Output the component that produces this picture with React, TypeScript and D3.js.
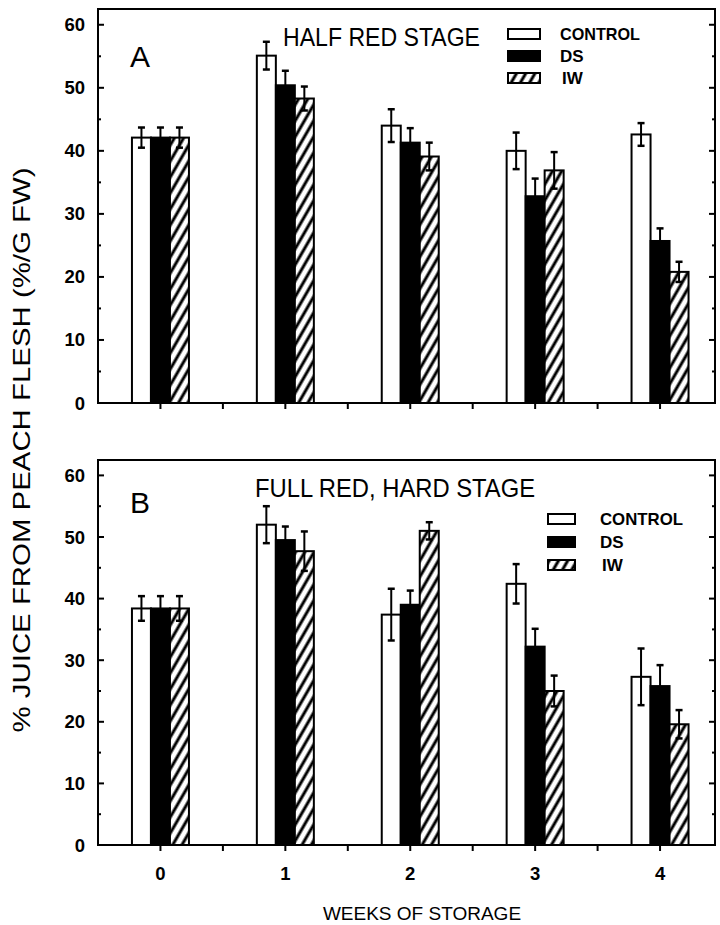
import * as d3 from "d3";

// weeks of storage and the three treatments
const weeks = [0, 1, 2, 3, 4];
const treatments = ["CONTROL", "DS", "IW"];
const yTicks = [0, 10, 20, 30, 40, 50, 60];

// panel A: half red stage
const halfControl = [42.1, 55.1, 44.0, 40.0, 42.6];
const halfControlErr = [1.6, 2.2, 2.6, 2.9, 1.8];
const halfDS = [42.1, 50.4, 41.3, 32.8, 25.7];
const halfDSErr = [1.6, 2.3, 2.3, 2.8, 2.0];
const halfIW = [42.1, 48.3, 39.1, 36.9, 20.8];
const halfIWErr = [1.6, 1.9, 2.2, 2.9, 1.6];

// panel B: full red, hard stage
const fullControl = [38.4, 52.0, 37.4, 42.4, 27.3];
const fullControlErr = [2.0, 3.0, 4.2, 3.2, 4.6];
const fullDS = [38.4, 49.5, 39.0, 32.2, 25.8];
const fullDSErr = [2.0, 2.2, 2.3, 2.9, 3.4];
const fullIW = [38.4, 47.7, 51.0, 25.0, 19.6];
const fullIWErr = [2.0, 3.2, 1.4, 2.5, 2.3];

const FONT = "'Liberation Sans', Arial, sans-serif";
const LEFT = 98, RIGHT = 715;

const x = d3.scaleLinear().domain([-0.5, 4.44]).range([LEFT, RIGHT]);
const inner = d3.scaleBand<string>().domain(treatments).range([-28.5, 28.5]).padding(0);
const fills = ["#fff", "#000", "url(#hatch)"];

function Panel({
  y0, y1, vals, errs, letter, letterY, title, titleX, titleY, titleLen,
  legX, legW, legTextX, legY, legGap, ctrlLen,
}: {
  y0: number; y1: number; vals: number[][]; errs: number[][];
  letter: string; letterY: number; title: string; titleX: number; titleY: number; titleLen: number;
  legX: number; legW: number; legTextX: number; legY: number; legGap: number; ctrlLen: number;
}) {
  const y = d3.scaleLinear().domain([0, 62.5]).range([y0, y1]);
  const minor = d3.range(5, 62, 10);
  return (
    <g>
      {/* bars */}
      {weeks.map((w, i) => (
        <g key={w}>
          {treatments.map((t, k) => (
            <rect key={t} x={x(w) + inner(t)!} y={y(vals[k][i])} width={inner.bandwidth()}
              height={y(0) - y(vals[k][i])} fill={fills[k]} stroke="#000" strokeWidth={2} />
          ))}
          {treatments.map((t, k) => {
            const cx = x(w) + inner(t)! + inner.bandwidth() / 2;
            const hi = y(vals[k][i] + errs[k][i]), lo = y(vals[k][i] - errs[k][i]);
            return (
              <g key={`e${t}`} stroke="#000" strokeWidth={2}>
                <line x1={cx} x2={cx} y1={hi} y2={lo} />
                <line x1={cx - 3.5} x2={cx + 3.5} y1={hi} y2={hi} strokeWidth={2.5} />
                <line x1={cx - 3.5} x2={cx + 3.5} y1={lo} y2={lo} strokeWidth={2.5} />
              </g>
            );
          })}
        </g>
      ))}
      {/* frame */}
      <rect x={LEFT} y={y1} width={RIGHT - LEFT} height={y0 - y1} fill="none" stroke="#000" strokeWidth={2} />
      {/* y ticks, inward on both sides */}
      {yTicks.map((t) => (
        <g key={t}>
          <line x1={LEFT} x2={LEFT + 6} y1={y(t)} y2={y(t)} stroke="#000" strokeWidth={2} />
          <line x1={RIGHT} x2={RIGHT - 6} y1={y(t)} y2={y(t)} stroke="#000" strokeWidth={2} />
          <text x={85} y={y(t) + 6.5} textAnchor="end" fontFamily={FONT} fontWeight="bold" fontSize={18.5}>{t}</text>
        </g>
      ))}
      {minor.map((t) => (
        <g key={`m${t}`}>
          <line x1={LEFT} x2={LEFT + 3} y1={y(t)} y2={y(t)} stroke="#000" strokeWidth={2} />
          <line x1={RIGHT} x2={RIGHT - 3} y1={y(t)} y2={y(t)} stroke="#000" strokeWidth={2} />
        </g>
      ))}
      {/* x ticks, outward */}
      {d3.range(0, 4.01, 0.5).map((t) => (
        <line key={`x${t}`} x1={x(t)} x2={x(t)} y1={y0} y2={y0 + 6} stroke="#000" strokeWidth={2} />
      ))}
      <text x={130} y={letterY} fontFamily={FONT} fontSize={30}>{letter}</text>
      <text x={titleX} y={titleY} fontFamily={FONT} fontSize={25} textLength={titleLen} lengthAdjust="spacingAndGlyphs">{title}</text>
      {/* legend */}
      {treatments.map((t, k) => (
        <g key={`l${t}`}>
          <rect x={legX} y={legY + k * legGap - 11} width={legW} height={10} fill={fills[k]} stroke="#000" strokeWidth={2} />
          <text x={legTextX + (t === "IW" ? 2 : 0)} y={legY + k * legGap} fontFamily={FONT} fontWeight="bold" fontSize={17}
            textLength={t === "CONTROL" ? ctrlLen : undefined} lengthAdjust="spacingAndGlyphs">{t}</text>
        </g>
      ))}
    </g>
  );
}

export default function App() {
  return (
    <svg width={720} height={925} style={{ position: "absolute", left: 0, top: 0, background: "#fff" }}>
      <defs>
        <pattern id="hatch" patternUnits="userSpaceOnUse" width={8} height={8} patternTransform="rotate(30)">
          <rect width={8} height={8} fill="#fff" />
          <line x1={4} x2={4} y1={0} y2={8} stroke="#000" strokeWidth={3} />
        </pattern>
      </defs>
      <Panel y0={403} y1={9} vals={[halfControl, halfDS, halfIW]} errs={[halfControlErr, halfDSErr, halfIWErr]}
        letter="A" letterY={67} title="HALF RED STAGE" titleX={283} titleY={46} titleLen={197}
        legX={508} legW={32} legTextX={560} legY={40} legGap={22} ctrlLen={80} />
      <Panel y0={845} y1={460} vals={[fullControl, fullDS, fullIW]} errs={[fullControlErr, fullDSErr, fullIWErr]}
        letter="B" letterY={513} title="FULL RED, HARD STAGE" titleX={255} titleY={497} titleLen={280}
        legX={548} legW={27} legTextX={600} legY={525} legGap={23} ctrlLen={83} />
      {weeks.map((w) => (
        <text key={w} x={x(w)} y={880} textAnchor="middle" fontFamily={FONT} fontWeight="bold" fontSize={18.5}>{w}</text>
      ))}
      <text x={422} y={920} textAnchor="middle" fontFamily={FONT} fontSize={19}>WEEKS OF STORAGE</text>
      <text transform="translate(30,450) rotate(-90)" textAnchor="middle" fontFamily={FONT} fontSize={24}
        textLength={565} lengthAdjust="spacingAndGlyphs">% JUICE FROM PEACH FLESH (%/G FW)</text>
    </svg>
  );
}
